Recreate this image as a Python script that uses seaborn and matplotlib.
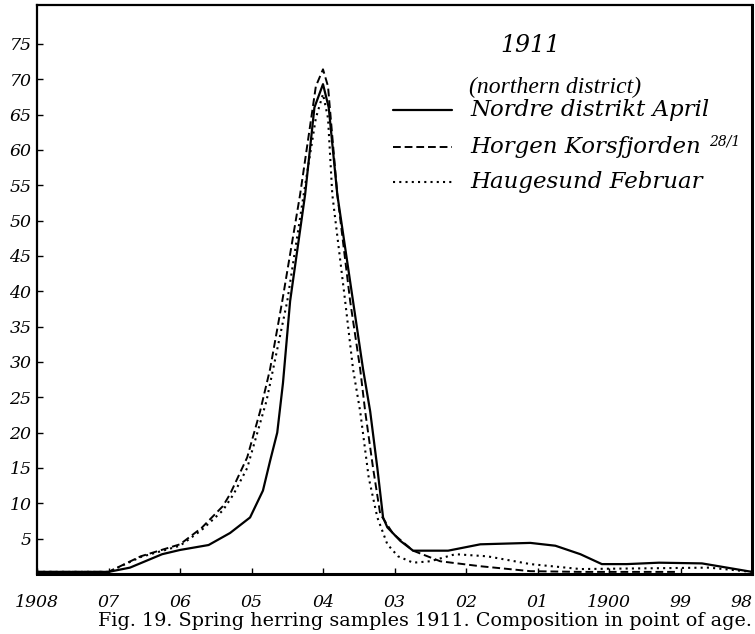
import numpy as np
import pandas as pd
import matplotlib
matplotlib.use("Agg")
import matplotlib.pyplot as plt
import seaborn as sns

sns.set_style("ticks")
plt.rcParams["font.family"] = ["DejaVu Serif", "Liberation Serif"]
plt.rcParams.update({
    "text.color": "black",
    "axes.edgecolor": "black",
    "xtick.color": "black",
    "ytick.color": "black",
    "axes.labelcolor": "black",
})

# year class on x, percent of sample on y
nordre_year = [1908.0, 1907.0, 1906.7, 1906.25, 1906.0, 1905.6, 1905.3, 1905.02,
               1904.84, 1904.74, 1904.64, 1904.56, 1904.46, 1904.25, 1904.12,
               1904.0, 1903.92, 1903.8, 1903.58, 1903.44, 1903.34, 1903.24,
               1903.16, 1903.1, 1902.92, 1902.74, 1902.25, 1901.8, 1901.1,
               1900.75, 1900.4, 1900.1, 1899.75, 1899.3, 1898.7, 1898.35, 1898.0]
nordre_pct = [0.3, 0.3, 0.9, 2.8, 3.4, 4.1, 5.8, 8.0,
              11.8, 16.0, 20.0, 27.0, 38.6, 53.7, 66.0,
              69.3, 66.0, 53.7, 38.6, 29.0, 23.0, 15.0,
              8.0, 6.6, 4.7, 3.3, 3.3, 4.2, 4.4,
              4.0, 2.8, 1.4, 1.4, 1.6, 1.5, 0.9, 0.3]

horgen_year = [1908.0, 1907.0, 1906.55, 1906.0, 1905.7, 1905.4, 1905.3, 1905.06,
               1904.88, 1904.74, 1904.57, 1904.32, 1904.1, 1904.0, 1903.93,
               1903.8, 1903.62, 1903.48, 1903.41, 1903.3, 1903.2, 1903.02,
               1902.74, 1902.36, 1901.8, 1901.1, 1900.4, 1899.05]
horgen_pct = [0.3, 0.3, 2.5, 4.2, 6.5, 9.6, 11.3, 16.5,
              23.0, 29.0, 38.6, 53.7, 69.0, 71.4, 69.0,
              53.7, 38.6, 29.0, 23.0, 15.0, 8.5, 5.7,
              3.3, 1.8, 1.1, 0.4, 0.3, 0.3]

haugesund_year = [1908.0, 1907.0, 1906.55, 1906.0, 1905.7, 1905.4, 1905.25, 1905.06,
                  1904.79, 1904.5, 1904.27, 1904.1, 1904.0, 1903.93, 1903.87,
                  1903.69, 1903.58, 1903.48, 1903.36, 1903.24, 1903.1, 1902.95,
                  1902.74, 1902.5, 1902.15, 1901.7, 1901.1, 1900.4, 1899.5,
                  1898.6, 1898.0]
haugesund_pct = [0.3, 0.3, 2.4, 4.0, 6.2, 9.0, 11.3, 15.0,
                 24.5, 38.6, 53.7, 64.5, 67.9, 64.5, 53.7,
                 38.6, 29.0, 23.0, 13.6, 8.0, 4.2, 2.5,
                 1.6, 1.8, 2.8, 2.5, 1.4, 0.7, 0.8,
                 0.9, 0.3]

year_ticks = [1908, 1907, 1906, 1905, 1904, 1903, 1902, 1901, 1900, 1899, 1898]
year_labels = ["1908", "07", "06", "05", "04", "03", "02", "01", "1900", "99", "98"]
pct_ticks = list(range(5, 80, 5))

# (legend name, date note, x, y, linestyle, linewidth)
series = [
    ("Nordre distrikt April", "", nordre_year, nordre_pct, "-", 1.6),
    ("Horgen Korsfjorden", "28/1", horgen_year, horgen_pct, (0, (4, 2)), 1.4),
    ("Haugesund Februar", "", haugesund_year, haugesund_pct, (0, (1, 2)), 1.5),
]

fig = plt.figure(figsize=(7.55, 6.34), dpi=100)
ax = fig.add_axes([37 / 755, 1 - 574 / 634, 715 / 755, 569 / 634])

for name, note, xs, ys, ls, lw in series:
    df = pd.DataFrame({"year": xs, "pct": ys})
    sns.lineplot(data=df, x="year", y="pct", ax=ax, color="black",
                 linestyle=ls, linewidth=lw, sort=False, estimator=None)

tick_font = dict(fontstyle="italic", family="DejaVu Serif", fontsize=12.5)
ax.set_xlim(1908, 1898)
ax.set_ylim(0, 80.5)
ax.set_xticks(year_ticks)
ax.set_xticklabels(year_labels, **tick_font)
ax.set_yticks(pct_ticks)
ax.set_yticklabels([str(v) for v in pct_ticks], **tick_font)
ax.tick_params(direction="in", length=4, width=1, colors="black")
ax.tick_params(axis="x", pad=14.5)
ax.tick_params(axis="y", pad=4)
ax.get_xticklabels()[-1].set_ha("right")
ax.set_xlabel("")
ax.set_ylabel("")
for side in ["top", "right", "bottom", "left"]:
    ax.spines[side].set_visible(True)
    ax.spines[side].set_linewidth(1.6)
    ax.spines[side].set_color("black")
ax.spines["bottom"].set_linewidth(2.2)
ax.spines["right"].set_linewidth(2.2)

# hand-drawn legend block
ax.text(1901.1, 74.8, "1911", fontsize=17, style="italic", family="DejaVu Serif",
        ha="center", va="center")
ax.text(1900.75, 68.9, "(northern district)", fontsize=17, style="italic",
        family="Liberation Serif", ha="center", va="center")
leg_y = [65.6, 60.4, 55.4]
for (name, note, xs, ys, ls, lw), y in zip(series, leg_y):
    ax.plot([1903.02, 1902.2], [y, y], color="black", linestyle=ls, linewidth=lw)
    t = ax.text(1901.94, y, name, fontsize=16.5, style="italic",
                family="DejaVu Serif", ha="left", va="center")
    if note:
        ax.annotate(note, xy=(1, 0.75), xycoords=t, xytext=(6, 0),
                    textcoords="offset points", fontsize=10, style="italic",
                    family="DejaVu Serif", ha="left", va="center")

fig.text(752 / 755, 1 - 621 / 634,
         "Fig. 19. Spring herring samples 1911. Composition in point of age.",
         fontsize=13.8, family="DejaVu Serif", ha="right", va="center")

fig.savefig("out.png", dpi=100)
